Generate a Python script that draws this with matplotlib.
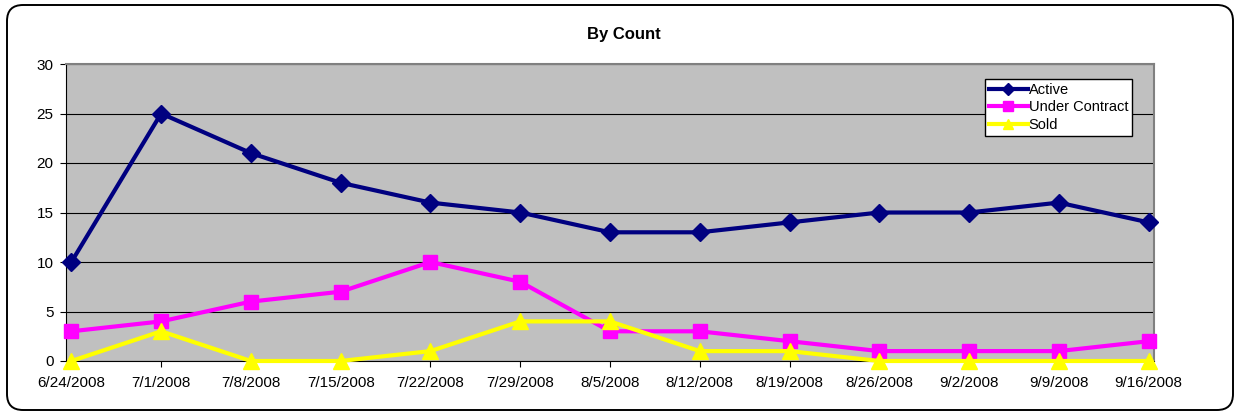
import numpy as np
import matplotlib
matplotlib.use('Agg')
import matplotlib.pyplot as plt
from matplotlib.patches import FancyBboxPatch
from matplotlib.transforms import IdentityTransform

plt.rcParams['font.family'] = ['Liberation Sans', 'DejaVu Sans']

# data
dates = ['6/24/2008', '7/1/2008', '7/8/2008', '7/15/2008', '7/22/2008', '7/29/2008',
         '8/5/2008', '8/12/2008', '8/19/2008', '8/26/2008', '9/2/2008', '9/9/2008', '9/16/2008']
active = [10, 25, 21, 18, 16, 15, 13, 13, 14, 15, 15, 16, 14]
under_contract = [3, 4, 6, 7, 10, 8, 3, 3, 2, 1, 1, 1, 2]
sold = [0, 3, 0, 0, 1, 4, 4, 1, 1, 0, 0, 0, 0]

fig = plt.figure(figsize=(12.37, 4.13), dpi=100)
ax = fig.add_axes([66/1237, 52/413, 1088/1237, 297/413])

# rounded frame around the whole chart (pixel coords)
frame = FancyBboxPatch((7, 3), 1226, 405,
                       boxstyle='round,pad=0,rounding_size=16',
                       transform=IdentityTransform(), fill=False,
                       edgecolor='black', linewidth=1.4)
fig.patches.append(frame)

x = np.arange(len(dates))
ax.set_facecolor('#C0C0C0')
ax.plot(x, active, color='#000080', lw=3, marker='D', ms=9, label='Active', zorder=4, clip_on=False)
ax.plot(x, under_contract, color='#FF00FF', lw=3, marker='s', ms=10, label='Under Contract', zorder=3, clip_on=False)
ax.plot(x, sold, color='#FFFF00', lw=3, marker='^', ms=11, label='Sold', zorder=3, clip_on=False)

ax.set_xlim(-0.06, 12.06)
ax.set_ylim(0, 30)
ax.set_yticks(range(0, 31, 5))
ax.set_xticks(x)
ax.set_xticklabels(dates)
ax.tick_params(labelsize=11, length=4, color='black')
ax.tick_params(axis='x', pad=7)
ax.tick_params(axis='y', pad=5)
ax.yaxis.grid(True, color='black', lw=0.8)
ax.set_axisbelow(True)
for s in ['top', 'right']:
    ax.spines[s].set_color('#808080')
    ax.spines[s].set_linewidth(1.5)
for s in ['left', 'bottom']:
    ax.spines[s].set_color('black')

# title centred on the whole chart area
fig.text(624/1237, 1 - 39/413, 'By Count', fontsize=12, fontweight='bold',
         ha='center', va='baseline')

leg = ax.legend(loc='upper left', bbox_to_anchor=(919/1088, 1 - 15/297),
                fontsize=10.5, frameon=True, fancybox=False, edgecolor='black',
                framealpha=1, handlelength=2.7, handletextpad=0.05, borderpad=0.25,
                labelspacing=0.25, borderaxespad=0, markerscale=0.65)
leg.get_frame().set_linewidth(1)

fig.savefig('out.png', dpi=100)
